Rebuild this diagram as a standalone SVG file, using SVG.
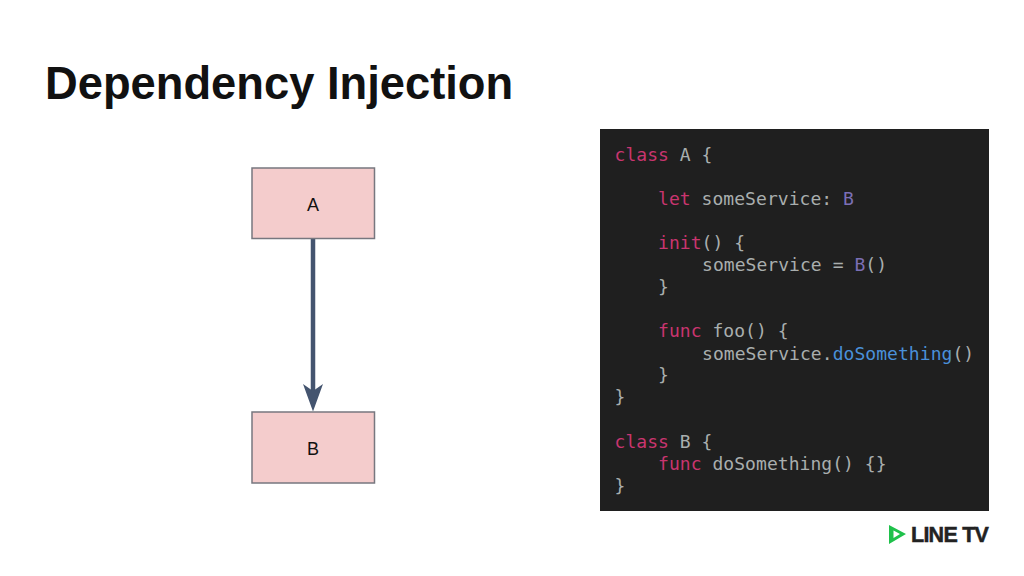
<svg xmlns="http://www.w3.org/2000/svg" width="1024" height="576" viewBox="0 0 1024 576">
<style>
.t{font-family:"Liberation Sans",Arial,sans-serif}
.n{fill:#f4cccc;stroke:#77777f;stroke-width:1.5}
.l{font-size:18px;fill:#111;text-anchor:middle}
.c{font-family:"DejaVu Sans Mono","Liberation Mono",monospace;font-size:18px;fill:#a9aeae;letter-spacing:.05px}
.k{fill:#c9356f}.y{fill:#7b6fb5}.f{fill:#4a90d9}
</style>
<defs><marker id="ah" markerUnits="userSpaceOnUse" markerWidth="28" markerHeight="20" refX="27.500" refY="10" orient="auto" viewBox="0 0 28 20"><path d="M0 0L7 10L0 20L27.500 10Z" fill="#44546f"/></marker></defs>
<rect width="1024" height="576" fill="#fff"/>
<text class="t" x="45" y="99" font-size="45.300" font-weight="700" fill="#111">Dependency Injection</text>
<g id="code">
<rect x="600" y="129" width="389" height="382" fill="#1f1f1f"/>
<g class="c" xml:space="preserve">
<text x="614.500" y="161"><tspan class="k">class</tspan> A {</text>
<text x="658" y="205"><tspan class="k">let</tspan> someService: <tspan class="y">B</tspan></text>
<text x="658" y="249"><tspan class="k">init</tspan>() {</text>
<text x="702" y="271">someService = <tspan class="y">B</tspan>()</text>
<text x="658" y="293">}</text>
<text x="658" y="337"><tspan class="k">func</tspan> foo() {</text>
<text x="702" y="360">someService.<tspan class="f">doSomething</tspan>()</text>
<text x="658" y="381">}</text>
<text x="614.500" y="403">}</text>
<text x="614.500" y="448"><tspan class="k">class</tspan> B {</text>
<text x="658" y="470"><tspan class="k">func</tspan> doSomething() {}</text>
<text x="614.500" y="492">}</text>
</g>
</g>
<g id="connectors"><path d="M313 239V411.500" fill="none" stroke="#44546f" stroke-width="4.500" stroke-dasharray="155 30" marker-end="url(#ah)"/></g>
<g id="node-a"><rect class="n" x="252" y="168" width="122.500" height="70.500"/><text class="t l" x="313" y="211">A</text></g>
<g id="node-b"><rect class="n" x="252" y="412" width="122.500" height="71"/><text class="t l" x="313" y="455">B</text></g>
<g id="logo">
<path d="M889 525L906 534L889 544ZM893.500 530.500V538L900 534Z" fill="#1fc14b" fill-rule="evenodd"/>
<text class="t" x="911" y="542" font-size="21.500" font-weight="700" fill="#222" stroke="#222" stroke-width=".5" letter-spacing="-.75">LINE TV</text>
</g>
</svg>
